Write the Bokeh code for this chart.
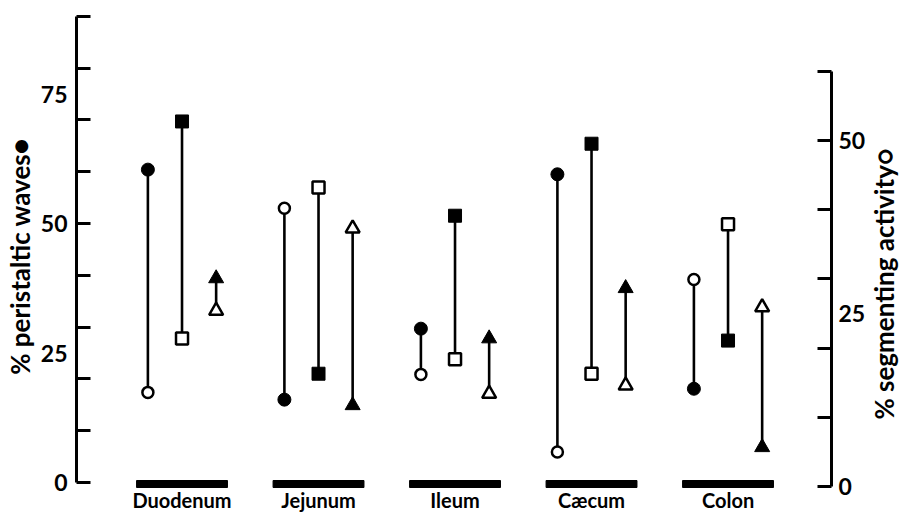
import math
from bokeh.plotting import figure
from bokeh.layouts import row
from bokeh.models import Range1d, LinearAxis, FixedTicker
from bokeh.core.properties import value
from bokeh.embed import file_html
from bokeh.resources import INLINE

# ---------------- data ----------------
regions = ["Duodenum", "Jejunum", "Ileum", "Cæcum", "Colon"]
# % peristaltic waves (filled symbols, left axis)
peri_circle = [60.4, 16.0, 29.7, 59.5, 18.1]
peri_square = [69.7, 21.0, 51.5, 65.4, 27.4]
peri_triangle = [39.4, 14.9, 27.8, 37.5, 6.8]
# % segmenting activity (open symbols, right axis)
seg_circle = [13.6, 40.2, 16.2, 5.0, 29.9]
seg_square = [21.4, 43.2, 18.4, 16.3, 37.9]
seg_triangle = [25.4, 37.3, 13.4, 14.6, 25.9]
left_tick_labels = [0, 25, 50, 75]
right_tick_labels = [0, 25, 50]
left_title = "% peristaltic waves●"
right_title = "% segmenting activity○"

FONT = "Lato"
W, H = 899, 512
MAIN_W = 869            # main figure width; the strip to its right holds the right-hand title
FRAME_LEFT, FRAME_RIGHT = 76, 831

left_range = Range1d(-5.79, 93.05)
right_range = Range1d(-3.757, 70.23)

p = figure(width=MAIN_W, height=H, output_backend="svg", toolbar_location=None,
           x_axis_location=None, y_axis_location=None,
           x_range=Range1d(-0.773, 4.758), y_range=left_range,
           min_border_left=FRAME_LEFT, min_border_right=MAIN_W - FRAME_RIGHT,
           min_border_top=0, min_border_bottom=0)
p.extra_y_ranges = {"seg": right_range}
p.grid.visible = False
p.outline_line_color = None
p.background_fill_color = "white"
p.border_fill_color = "white"


def style_axis(ax, standoff, title_standoff):
    ax.axis_line_width = 3
    ax.axis_line_color = "black"
    ax.major_tick_in = 0
    ax.major_tick_out = 0
    ax.minor_tick_in = 14
    ax.minor_tick_out = 0
    ax.minor_tick_line_width = 3
    ax.minor_tick_line_color = "black"
    ax.major_label_standoff = standoff
    ax.major_label_text_font = FONT
    ax.major_label_text_font_style = "bold"
    ax.major_label_text_font_size = "23px"
    ax.major_label_text_color = "black"
    ax.axis_label_standoff = title_standoff
    ax.axis_label_text_font = FONT
    ax.axis_label_text_font_style = "bold"
    ax.axis_label_text_font_size = "26px"
    ax.axis_label_text_color = "black"


left_axis = LinearAxis(bounds=(0, 90), axis_label=left_title,
                       ticker=FixedTicker(ticks=left_tick_labels, minor_ticks=list(range(0, 91, 10))))
style_axis(left_axis, 9, 2)
p.add_layout(left_axis, "left")

right_axis = LinearAxis(y_range_name="seg", bounds=(0, 60),
                        ticker=FixedTicker(ticks=right_tick_labels, minor_ticks=list(range(0, 61, 10))))
style_axis(right_axis, 7, 4)
p.add_layout(right_axis, "right")


# conversion of right-axis values into left-axis units (for connecting lines)
def to_left(v):
    return left_range.start + (v - right_range.start) * (left_range.end - left_range.start) / (right_range.end - right_range.start)


idx = list(range(len(regions)))
offsets = {"circle": -0.25, "square": 0.0, "triangle": 0.25}
series = [("circle", peri_circle, seg_circle),
          ("square", peri_square, seg_square),
          ("triangle", peri_triangle, seg_triangle)]

for marker, peri, seg in series:
    xs = [i + offsets[marker] for i in idx]
    p.segment(x0=xs, y0=peri, x1=xs, y1=[to_left(v) for v in seg],
              line_width=2.6, line_color="black")

sizes = {"circle": (13, 11), "square": (13, 12), "triangle": (15, 14)}
for marker, peri, seg in series:
    xs = [i + offsets[marker] for i in idx]
    fs, os_ = sizes[marker]
    p.scatter(x=xs, y=peri, marker=marker, size=fs, fill_color="black", line_color="black", line_width=1)
    p.scatter(x=xs, y=seg, marker=marker, size=os_, fill_color="white", line_color="black",
              line_width=2.5, y_range_name="seg")

# category bars
p.hbar(y=-0.29, left=[i - 0.333 for i in idx], right=[i + 0.333 for i in idx], height=1.35,
       fill_color="black", line_color="black")

# category labels
p.text(x=idx, y=-3.3, text=regions, text_align="center", text_baseline="middle",
       text_font=value(FONT), text_font_style="bold", text_font_size=value("20px"), text_color="black")

# ---- narrow strip carrying the right-hand axis title (reads bottom to top) ----
p2 = figure(width=W - MAIN_W, height=H, output_backend="svg", toolbar_location=None,
            x_axis_location=None, y_axis_location=None,
            x_range=Range1d(0, 1), y_range=Range1d(right_range.start, right_range.end),
            min_border_left=0, min_border_right=0, min_border_top=0, min_border_bottom=0)
p2.grid.visible = False
p2.outline_line_color = None
p2.background_fill_color = "white"
p2.border_fill_color = "white"
p2.text(x=[0.47], y=[29.3], text=[right_title], angle=math.pi / 2,
        text_align="center", text_baseline="middle",
        text_font=value(FONT), text_font_style="bold", text_font_size=value("26px"), text_color="black")

layout = row(p, p2, spacing=0)
open("out.html", "w").write(file_html(layout, INLINE))
